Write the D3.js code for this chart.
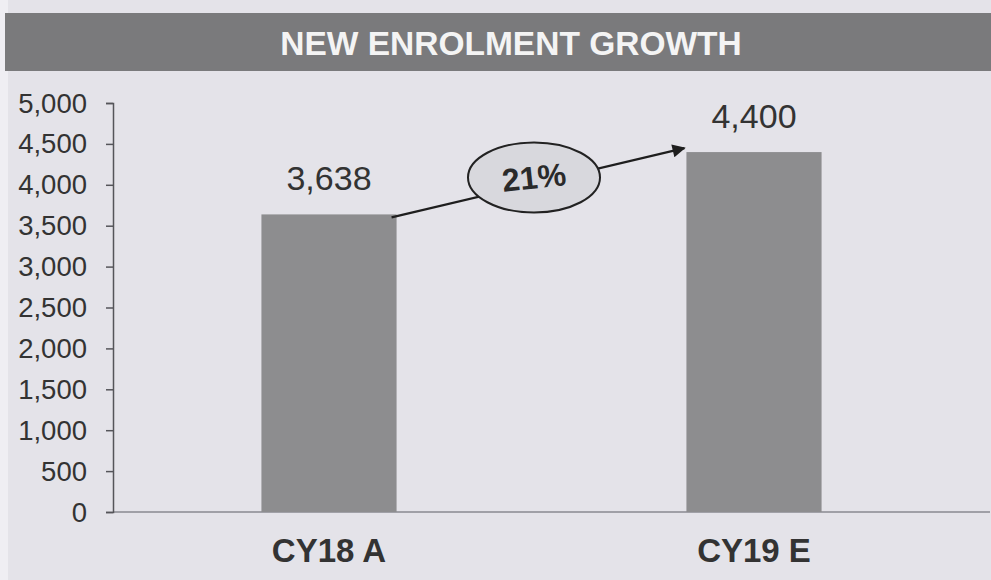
<!DOCTYPE html>
<html>
<head>
<meta charset="utf-8">
<script src="https://cdn.jsdelivr.net/npm/d3@7/dist/d3.min.js"></script>
<style>
  html, body { margin: 0; padding: 0; background: #e4e3e9; }
  svg { display: block; }
</style>
</head>
<body>
<svg id="chart" width="991" height="580"></svg>
<script>
const title = "NEW ENROLMENT GROWTH";
const categories = ["CY18 A", "CY19 E"];
const values = [3638, 4400];
const valueLabels = ["3,638", "4,400"];
const tickValues = [0, 500, 1000, 1500, 2000, 2500, 3000, 3500, 4000, 4500, 5000];
const growthLabel = "21%";

const W = 991, H = 580;
const font = "'Liberation Sans', Arial, sans-serif";
const svg = d3.select("#chart");

svg.append("rect").attr("x", 0).attr("y", 0).attr("width", W).attr("height", H).attr("fill", "#e4e3e9");
svg.append("rect").attr("x", 0).attr("y", 0).attr("width", 8).attr("height", H).attr("fill", "#efeef3");

// Title band
svg.append("rect").attr("x", 5).attr("y", 13).attr("width", W - 5).attr("height", 58).attr("fill", "#7a7a7c");
svg.append("text").attr("x", 511).attr("y", 55).attr("text-anchor", "middle")
  .attr("font-family", font).attr("font-weight", "bold").attr("font-size", 33.5)
  .attr("fill", "#f4f4f4").text(title);

const axisX = 113;
const y = d3.scaleLinear().domain([0, 5000]).range([512, 103]);
const x = d3.scaleBand().domain(categories).range([116.5, 966.5]).paddingInner(0.682).paddingOuter(0.341);

// Baseline
svg.append("line").attr("x1", axisX).attr("x2", 990).attr("y1", y(0)).attr("y2", y(0))
  .attr("stroke", "#8a8a90").attr("stroke-width", 1.5);

// Bars
svg.selectAll("rect.bar").data(values).enter().append("rect").attr("class", "bar")
  .attr("x", (d, i) => x(categories[i]))
  .attr("width", x.bandwidth())
  .attr("y", d => y(d))
  .attr("height", d => y(0) - y(d))
  .attr("fill", "#8d8d8f");

// Y axis
const yAxis = d3.axisLeft(y).tickValues(tickValues).tickSize(7).tickPadding(19)
  .tickFormat(d3.format(","));
const ga = svg.append("g").attr("transform", `translate(${axisX},0)`).call(yAxis);
ga.select(".domain").attr("stroke", "#55555a").attr("stroke-width", 1.5);
ga.selectAll(".tick line").attr("stroke", "#55555a").attr("stroke-width", 1.5);
ga.selectAll(".tick text").attr("font-family", font).attr("font-size", 27.5).attr("fill", "#333")
  .attr("dy", "0.33em");

// Value labels
svg.selectAll("text.val").data(values).enter().append("text").attr("class", "val")
  .attr("x", (d, i) => x(categories[i]) + x.bandwidth() / 2)
  .attr("y", d => y(d) - 24)
  .attr("text-anchor", "middle").attr("font-family", font).attr("font-size", 34).attr("fill", "#333")
  .text((d, i) => valueLabels[i]);

// Category labels
svg.selectAll("text.cat").data(categories).enter().append("text").attr("class", "cat")
  .attr("x", d => x(d) + x.bandwidth() / 2)
  .attr("y", 562)
  .attr("text-anchor", "middle").attr("font-family", font).attr("font-weight", "bold")
  .attr("font-size", 33).attr("fill", "#333").text(d => d);

// Growth arrow
const defs = svg.append("defs");
defs.append("marker").attr("id", "arrow").attr("viewBox", "0 0 10 10")
  .attr("refX", 9).attr("refY", 5).attr("markerWidth", 7).attr("markerHeight", 6)
  .attr("markerUnits", "strokeWidth").attr("orient", "auto")
  .append("path").attr("d", "M0,0 L10,5 L0,10 z").attr("fill", "#1e1e1e");

const x1 = x(categories[0]) + x.bandwidth() - 5, y1 = y(values[0]) + 3;
const x2 = x(categories[1]) - 2, y2 = y(values[1]) - 4;
svg.append("line").attr("x1", x1).attr("y1", y1).attr("x2", x2).attr("y2", y2)
  .attr("stroke", "#1e1e1e").attr("stroke-width", 2.2).attr("marker-end", "url(#arrow)");

const ex = 534, ey = 177.5;
svg.append("ellipse").attr("cx", ex).attr("cy", ey).attr("rx", 66).attr("ry", 35)
  .attr("fill", "#d8d8dd").attr("stroke", "#222").attr("stroke-width", 2);
svg.append("text").attr("x", ex).attr("y", ey + 11).attr("text-anchor", "middle")
  .attr("font-family", font).attr("font-weight", "bold").attr("font-size", 32)
  .attr("fill", "#2a2a2a").attr("transform", `rotate(-6, ${ex}, ${ey})`).text(growthLabel);
</script>
</body>
</html>
